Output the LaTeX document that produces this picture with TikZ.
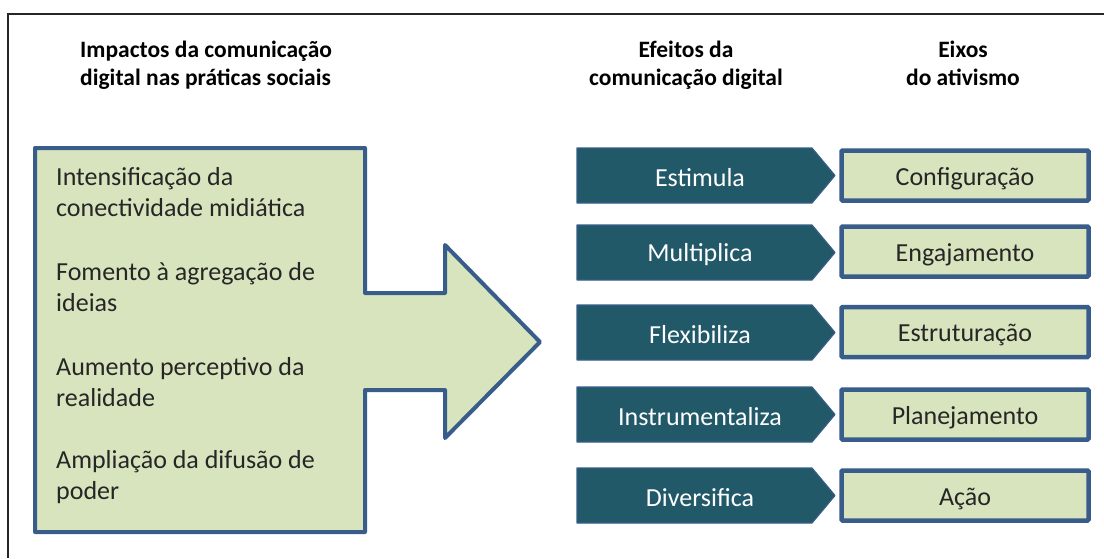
\documentclass[tikz,border=0pt]{standalone}
\usepackage{fontspec}
\setmainfont{Carlito}
\definecolor{frameblue}{HTML}{385D8A}
\definecolor{lightgreen}{HTML}{D7E4BD}
\definecolor{darkteal}{HTML}{215968}
\definecolor{txt}{HTML}{262626}
\tikzset{
  heading/.style={font=\fontsize{23.5}{28}\selectfont\bfseries, text=black, align=center, inner sep=0pt},
  bodytext/.style={font=\fontsize{26}{31}\selectfont, text=txt, align=left, anchor=west, inner sep=0pt},
  chevshape/.style={fill=darkteal, draw=frameblue, line width=1.2pt, line join=round},
  chevtext/.style={text=white, font=\fontsize{26}{30}\selectfont, inner sep=0pt},
  axisbox/.style={draw=frameblue, fill=lightgreen, line width=4.5pt, minimum width=247pt, minimum height=50pt, inner sep=0pt,
     text height=19pt, text depth=0pt,
     text=txt, font=\fontsize{26}{30}\selectfont, rounded corners=1pt},
  bigarrow/.style={draw=frameblue, fill=lightgreen, line width=4pt, line join=round}
}
\newcommand{\chev}[1]{\path[chevshape] (577,#1-27.5) -- (812,#1-27.5) -- (835,#1) -- (812,#1+27.5) -- (577,#1+27.5) -- cycle;}
\begin{document}
\begin{tikzpicture}[x=1pt,y=-1pt]
\useasboundingbox (0,0) rectangle (1104,558);
\fill[white] (0,0) rectangle (1104,558);
\draw[line width=2pt, color=black!85] (1104,14) -- (8,14) -- (8,558);
% headings
\node[heading, anchor=west, align=left] (h1) at (80,65.5) {Impactos da comunicação\\digital nas práticas sociais};
\node[heading] (h2) at (686,65.5) {Efeitos da\\comunicação digital};
\node[heading] (h3) at (963,63.5) {Eixos\\do ativismo};
% big arrow
\path[bigarrow] (35,148) -- (365,148) -- (365,293) -- (445,293) -- (445,245) -- (540,342) -- (445,438) -- (445,390) -- (365,390) -- (365,532) -- (35,532) -- cycle;
\node[bodytext] (i1) at (56,192) {Intensificação da\\conectividade midiática};
\node[bodytext] (i2) at (56,287) {Fomento à agregação de\\ideias};
\node[bodytext] (i3) at (56,382) {Aumento perceptivo da\\realidade};
\node[bodytext] (i4) at (56,477) {Ampliação da difusão de\\poder};
% chevrons
\chev{175.5}\chev{252.5}\chev{332.5}\chev{414.5}\chev{495.5}
\node[chevtext] (e1) at (700,177.5) {Estimula};
\node[chevtext] (e2) at (700,254.5) {Multiplica};
\node[chevtext] (e3) at (700,334.5) {Flexibiliza};
\node[chevtext] (e4) at (700,416.5) {Instrumentaliza};
\node[chevtext] (e5) at (700,497.5) {Diversifica};
% axis boxes
\node[axisbox] (a1) at (965,175.5) {Configuração};
\node[axisbox] (a2) at (965,251.5) {Engajamento};
\node[axisbox] (a3) at (965,332) {Estruturação};
\node[axisbox] (a4) at (965,414.5) {Planejamento};
\node[axisbox] (a5) at (965,495.5) {Ação};
\end{tikzpicture}
\end{document}
